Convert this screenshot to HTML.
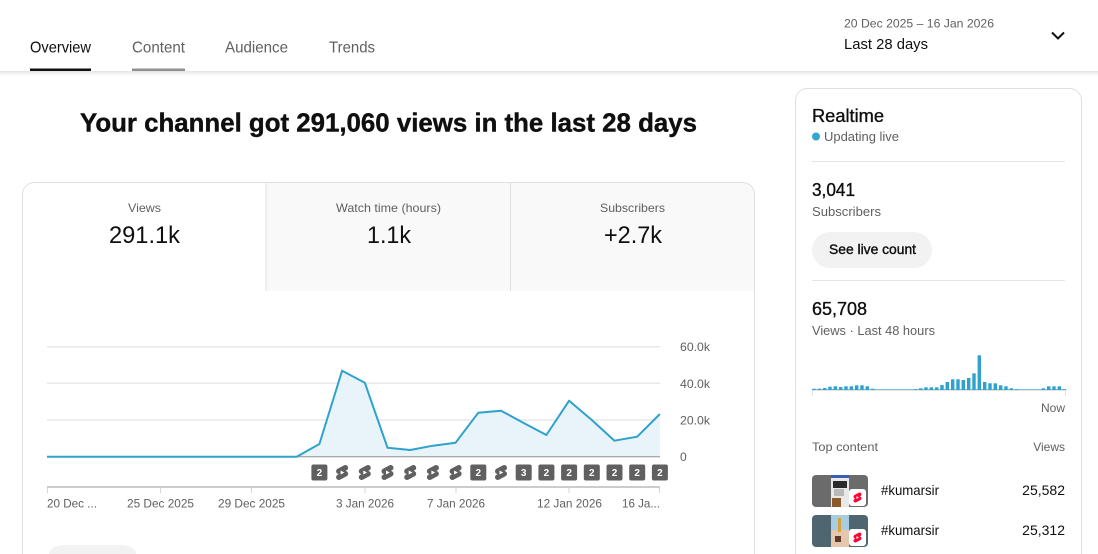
<!DOCTYPE html>
<html><head><meta charset="utf-8"><style>
html,body{margin:0;padding:0;background:#fff;width:1098px;height:554px;overflow:hidden}
svg{display:block}
text{font-family:"Liberation Sans",Arial,sans-serif}
</style></head><body>
<svg width="1098" height="554" viewBox="0 0 1098 554" xmlns="http://www.w3.org/2000/svg">
<defs>
<linearGradient id="sh" x1="0" y1="0" x2="0" y2="1"><stop offset="0" stop-color="#000" stop-opacity="0.10"/><stop offset="1" stop-color="#000" stop-opacity="0"/></linearGradient>
<clipPath id="cardclip"><path d="M22.5,554 V194.5 A12,12 0 0 1 34.5,182.5 H742.5 A12,12 0 0 1 754.5,194.5 V554 Z"/></clipPath>
<path id="shorts" d="M17.77 10.32l-1.2-.5L18 9.06c1.84-.96 2.53-3.23 1.56-5.06s-3.24-2.53-5.07-1.56L6 6.94c-1.29.68-2.07 2.04-2 3.49.07 1.42.93 2.67 2.22 3.25.03.01 1.2.5 1.2.5L6 14.93c-1.83.97-2.53 3.240-1.56 5.07.97 1.83 3.24 2.53 5.07 1.56l8.5-4.5c1.29-.68 2.06-2.04 1.99-3.49-.07-1.42-.94-2.68-2.23-3.25zM10 14.65v-5.3L15 12l-5 2.65z" fill-rule="evenodd"/>
</defs>

<!-- Header -->
<rect x="0" y="71" width="1098" height="5" fill="url(#sh)"/>
<line x1="0" y1="71.5" x2="1098" y2="71.5" stroke="#e6e6e6" stroke-width="1"/>
<text x="30" y="52.5" font-size="16" fill="#0f0f0f" textLength="61" lengthAdjust="spacingAndGlyphs">Overview</text>
<rect x="30" y="68.5" width="61" height="2.5" fill="#0f0f0f"/>
<text x="132" y="52.5" font-size="16" fill="#606060" textLength="53" lengthAdjust="spacingAndGlyphs">Content</text>
<rect x="132" y="68.5" width="53" height="2.5" fill="#909090"/>
<text x="225" y="52.5" font-size="16" fill="#606060" textLength="63" lengthAdjust="spacingAndGlyphs">Audience</text>
<text x="329" y="52.5" font-size="16" fill="#606060" textLength="46" lengthAdjust="spacingAndGlyphs">Trends</text>

<text x="844" y="27.5" font-size="12" fill="#606060" textLength="150" lengthAdjust="spacingAndGlyphs">20 Dec 2025 – 16 Jan 2026</text>
<text x="844" y="49" font-size="15" fill="#0f0f0f" textLength="84" lengthAdjust="spacingAndGlyphs">Last 28 days</text>
<polyline points="1052,32.5 1058,38.5 1064,32.5" fill="none" stroke="#0f0f0f" stroke-width="2"/>

<!-- Title -->
<text x="80" y="131.7" font-size="26" font-weight="bold" fill="#0f0f0f" stroke="#0f0f0f" stroke-width="0.4" textLength="617" lengthAdjust="spacingAndGlyphs">Your channel got 291,060 views in the last 28 days</text>

<!-- Left card -->
<g clip-path="url(#cardclip)">
  <rect x="22.5" y="182.5" width="732" height="372" fill="#fff"/>
  <rect x="266" y="182.5" width="490" height="108.5" fill="#f9f9f9"/>
  <line x1="266" y1="182.5" x2="266" y2="291" stroke="#e0e0e0" stroke-width="1"/>
  <line x1="510.5" y1="182.5" x2="510.5" y2="291" stroke="#e0e0e0" stroke-width="1"/>
</g>
<path d="M22.5,554 V194.5 A12,12 0 0 1 34.5,182.5 H742.5 A12,12 0 0 1 754.5,194.5 V554" fill="none" stroke="#e0e0e0" stroke-width="1"/>

<text x="128" y="212" font-size="12" fill="#606060" textLength="33" lengthAdjust="spacingAndGlyphs">Views</text>
<text x="109" y="243" font-size="24" fill="#0f0f0f" textLength="71" lengthAdjust="spacingAndGlyphs">291.1k</text>
<text x="336" y="212" font-size="12" fill="#606060" textLength="105" lengthAdjust="spacingAndGlyphs">Watch time (hours)</text>
<text x="367" y="243" font-size="24" fill="#0f0f0f" textLength="44" lengthAdjust="spacingAndGlyphs">1.1k</text>
<text x="600" y="212" font-size="12" fill="#606060" textLength="65" lengthAdjust="spacingAndGlyphs">Subscribers</text>
<text x="604" y="243" font-size="24" fill="#0f0f0f" textLength="58" lengthAdjust="spacingAndGlyphs">+2.7k</text>

<!-- Chart grid -->
<line x1="47" y1="346.7" x2="660" y2="346.7" stroke="#e8e8e8" stroke-width="1.5"/>
<line x1="47" y1="383.3" x2="660" y2="383.3" stroke="#e8e8e8" stroke-width="1.5"/>
<line x1="47" y1="420" x2="660" y2="420" stroke="#e8e8e8" stroke-width="1.5"/>
<text x="680" y="351" font-size="12" fill="#606060" textLength="30" lengthAdjust="spacingAndGlyphs">60.0k</text>
<text x="680" y="388" font-size="12" fill="#606060" textLength="30" lengthAdjust="spacingAndGlyphs">40.0k</text>
<text x="680" y="424.5" font-size="12" fill="#606060" textLength="30" lengthAdjust="spacingAndGlyphs">20.0k</text>
<text x="680" y="461" font-size="12" fill="#606060">0</text>

<polygon points="47,456.7 296.7,456.7 319.4,444 342.1,370.7 364.8,382.7 387.5,447.7 410.2,450 432.9,445.7 455.6,442.7 478.3,412.7 501,410.7 523.7,423 546.4,435 569.1,400.7 591.8,420 614.5,440.7 637.2,436.7 659.9,414 659.9,456.7" fill="#e9f4fa"/>
<line x1="47" y1="456.7" x2="660" y2="456.7" stroke="#909090" stroke-width="1"/>
<polyline points="47,456.7 296.7,456.7 319.4,444 342.1,370.7 364.8,382.7 387.5,447.7 410.2,450 432.9,445.7 455.6,442.7 478.3,412.7 501,410.7 523.7,423 546.4,435 569.1,400.7 591.8,420 614.5,440.7 637.2,436.7 659.9,414" fill="none" stroke="#2ea2cc" stroke-width="2" stroke-linejoin="round"/>

<!-- Badges -->
<g font-size="10" font-weight="bold" fill="#fff" text-anchor="middle">
<rect x="311.4" y="464.5" width="16" height="16" rx="2" fill="#606060"/><text x="319.4" y="476">2</text>
<rect x="470.3" y="464.5" width="16" height="16" rx="2" fill="#606060"/><text x="478.3" y="476">2</text>
<rect x="515.7" y="464.5" width="16" height="16" rx="2" fill="#606060"/><text x="523.7" y="476">3</text>
<rect x="538.4" y="464.5" width="16" height="16" rx="2" fill="#606060"/><text x="546.4" y="476">2</text>
<rect x="561.1" y="464.5" width="16" height="16" rx="2" fill="#606060"/><text x="569.1" y="476">2</text>
<rect x="583.8" y="464.5" width="16" height="16" rx="2" fill="#606060"/><text x="591.8" y="476">2</text>
<rect x="606.5" y="464.5" width="16" height="16" rx="2" fill="#606060"/><text x="614.5" y="476">2</text>
<rect x="629.2" y="464.5" width="16" height="16" rx="2" fill="#606060"/><text x="637.2" y="476">2</text>
<rect x="651.9" y="464.5" width="16" height="16" rx="2" fill="#606060"/><text x="659.9" y="476">2</text>
</g>
<g fill="#606060">
<use href="#shorts" transform="translate(333.1,463.5) scale(0.75)"/>
<use href="#shorts" transform="translate(355.8,463.5) scale(0.75)"/>
<use href="#shorts" transform="translate(378.5,463.5) scale(0.75)"/>
<use href="#shorts" transform="translate(401.2,463.5) scale(0.75)"/>
<use href="#shorts" transform="translate(423.9,463.5) scale(0.75)"/>
<use href="#shorts" transform="translate(446.6,463.5) scale(0.75)"/>
<use href="#shorts" transform="translate(492,463.5) scale(0.75)"/>
</g>

<!-- X axis -->
<rect x="47" y="486" width="613" height="2" fill="#cccccc"/>
<g stroke="#d6d6d6" stroke-width="1">
<line x1="47.5" y1="488" x2="47.5" y2="493"/>
<line x1="160.5" y1="488" x2="160.5" y2="493"/>
<line x1="251.5" y1="488" x2="251.5" y2="493"/>
<line x1="365" y1="488" x2="365" y2="493"/>
<line x1="456" y1="488" x2="456" y2="493"/>
<line x1="569" y1="488" x2="569" y2="493"/>
<line x1="659.5" y1="488" x2="659.5" y2="493"/>
</g>
<g font-size="12" fill="#606060">
<text x="47" y="507.5" textLength="50" lengthAdjust="spacingAndGlyphs">20 Dec ...</text>
<text x="127" y="507.5" textLength="67" lengthAdjust="spacingAndGlyphs">25 Dec 2025</text>
<text x="218" y="507.5" textLength="67" lengthAdjust="spacingAndGlyphs">29 Dec 2025</text>
<text x="336" y="507.5" textLength="58" lengthAdjust="spacingAndGlyphs">3 Jan 2026</text>
<text x="427" y="507.5" textLength="58" lengthAdjust="spacingAndGlyphs">7 Jan 2026</text>
<text x="537" y="507.5" textLength="65" lengthAdjust="spacingAndGlyphs">12 Jan 2026</text>
<text x="622" y="507.5" textLength="38" lengthAdjust="spacingAndGlyphs">16 Ja...</text>
</g>

<path d="M49,554 V563 A18,18 0 0 1 67,545 H118 A18,18 0 0 1 136,563 V554 Z" fill="#f2f2f2"/>
<path d="M49,554 C49,549 55,545 67,545 H118 C130,545 136,549 136,554 Z" fill="#f2f2f2"/>

<!-- Realtime card -->
<path d="M795.5,554 V100.5 A12,12 0 0 1 807.5,88.5 H1069.5 A12,12 0 0 1 1081.5,100.5 V554" fill="#fff" stroke="#e0e0e0" stroke-width="1"/>
<text x="812" y="122" font-size="18" fill="#0f0f0f" stroke="#0f0f0f" stroke-width="0.35" textLength="72" lengthAdjust="spacingAndGlyphs">Realtime</text>
<circle cx="816" cy="136.5" r="4" fill="#33a6d2"/>
<text x="824" y="141" font-size="13" fill="#606060" textLength="75" lengthAdjust="spacingAndGlyphs">Updating live</text>
<line x1="812" y1="161.5" x2="1065" y2="161.5" stroke="#e5e5e5" stroke-width="1"/>
<text x="812" y="196" font-size="18" fill="#0f0f0f" stroke="#0f0f0f" stroke-width="0.35" textLength="43" lengthAdjust="spacingAndGlyphs">3,041</text>
<text x="812" y="216" font-size="13" fill="#606060" textLength="69" lengthAdjust="spacingAndGlyphs">Subscribers</text>
<rect x="812" y="232" width="120" height="36" rx="18" fill="#f2f2f2"/>
<text x="829" y="254" font-size="14" fill="#0f0f0f" stroke="#0f0f0f" stroke-width="0.4" textLength="87" lengthAdjust="spacingAndGlyphs">See live count</text>
<line x1="812" y1="280.5" x2="1065" y2="280.5" stroke="#e5e5e5" stroke-width="1"/>
<text x="812" y="315" font-size="18" fill="#0f0f0f" stroke="#0f0f0f" stroke-width="0.35" textLength="55" lengthAdjust="spacingAndGlyphs">65,708</text>
<text x="812" y="335" font-size="13" fill="#606060" textLength="123" lengthAdjust="spacingAndGlyphs">Views · Last 48 hours</text>

<!-- mini bars -->
<line x1="812" y1="390.5" x2="1066" y2="390.5" stroke="#e3e3e3" stroke-width="1"/>
<line x1="812.5" y1="390" x2="812.5" y2="396" stroke="#e3e3e3" stroke-width="1"/>
<line x1="1065.5" y1="390" x2="1065.5" y2="396" stroke="#e3e3e3" stroke-width="1"/>
<rect x="812" y="389" width="254" height="1" fill="#7cc3df"/>
<g fill="#2ea2cc">
<rect x="812.3" y="388.7" width="3.4" height="1.3"/>
<rect x="817.6" y="388.7" width="3.4" height="1.3"/>
<rect x="823.0" y="388" width="3.4" height="2"/>
<rect x="828.3" y="386.7" width="3.4" height="3.3"/>
<rect x="833.6" y="386.3" width="3.4" height="3.7"/>
<rect x="839.0" y="387" width="3.4" height="3"/>
<rect x="844.3" y="386.3" width="3.4" height="3.7"/>
<rect x="849.6" y="386.3" width="3.4" height="3.7"/>
<rect x="855.0" y="385.3" width="3.4" height="4.7"/>
<rect x="860.3" y="385.3" width="3.4" height="4.7"/>
<rect x="865.6" y="386.3" width="3.4" height="3.7"/>
<rect x="871.0" y="388.7" width="3.4" height="1.3"/>
<rect x="913.6" y="389.3" width="3.4" height="0.7"/>
<rect x="919.0" y="388.3" width="3.4" height="1.7"/>
<rect x="924.3" y="387.3" width="3.4" height="2.7"/>
<rect x="929.6" y="387.3" width="3.4" height="2.7"/>
<rect x="935.0" y="387.3" width="3.4" height="2.7"/>
<rect x="940.3" y="385" width="3.4" height="5"/>
<rect x="945.6" y="382" width="3.4" height="8"/>
<rect x="951.0" y="379.3" width="3.4" height="10.7"/>
<rect x="956.3" y="379.3" width="3.4" height="10.7"/>
<rect x="961.6" y="380" width="3.4" height="10"/>
<rect x="967.0" y="378" width="3.4" height="12"/>
<rect x="972.3" y="373.3" width="3.4" height="16.7"/>
<rect x="977.6" y="355.3" width="3.4" height="34.7"/>
<rect x="983.0" y="382" width="3.4" height="8"/>
<rect x="988.3" y="383.3" width="3.4" height="6.7"/>
<rect x="993.6" y="383.3" width="3.4" height="6.7"/>
<rect x="999.0" y="385.3" width="3.4" height="4.7"/>
<rect x="1004.3" y="386.3" width="3.4" height="3.7"/>
<rect x="1009.6" y="388.3" width="3.4" height="1.7"/>
<rect x="1015.0" y="389.3" width="3.4" height="0.7"/>
<rect x="1041.6" y="388.3" width="3.4" height="1.7"/>
<rect x="1047.0" y="386.3" width="3.4" height="3.7"/>
<rect x="1052.3" y="386.3" width="3.4" height="3.7"/>
<rect x="1057.6" y="386.3" width="3.4" height="3.7"/>
<rect x="1063.0" y="389.3" width="3.4" height="0.7"/>
</g>
<text x="1065" y="412" font-size="12" fill="#606060" text-anchor="end">Now</text>

<text x="812" y="451" font-size="12" fill="#606060" textLength="66" lengthAdjust="spacingAndGlyphs">Top content</text>
<text x="1065" y="451" font-size="12" fill="#606060" text-anchor="end">Views</text>

<!-- thumbnails -->
<rect x="812" y="475" width="56" height="32" rx="4" fill="#6b6b6b"/>
<rect x="831" y="475" width="18" height="32" fill="#e8e8e8"/>
<rect x="831" y="475" width="18" height="3" fill="#3a5fb0"/>
<rect x="833" y="481" width="14" height="7" fill="#2a2a2a"/>
<rect x="834" y="489" width="10" height="7" fill="#b8b8b8"/>
<rect x="832" y="498" width="9" height="9" fill="#8a5a2a"/>
<rect x="849" y="489" width="17" height="17" rx="3" fill="#fff"/>
<use href="#shorts" transform="translate(851.5,491.5) scale(0.5)" fill="#ff0033"/>

<rect x="812" y="515" width="56" height="32" rx="4" fill="#4f6670"/>
<rect x="831" y="515" width="18" height="32" fill="#a9cde0"/>
<rect x="831" y="530" width="18" height="17" fill="#e6c7ad"/>
<rect x="838" y="518" width="3" height="14" fill="#d7a33a"/>
<rect x="835" y="536" width="6" height="6" fill="#5a3a2a"/>
<rect x="849" y="529" width="17" height="17" rx="3" fill="#fff"/>
<use href="#shorts" transform="translate(851.5,531.5) scale(0.5)" fill="#ff0033"/>

<text x="881" y="495" font-size="14" fill="#0f0f0f" textLength="58" lengthAdjust="spacingAndGlyphs">#kumarsir</text>
<text x="1065" y="495" font-size="14" fill="#0f0f0f" text-anchor="end">25,582</text>
<text x="881" y="535" font-size="14" fill="#0f0f0f" textLength="58" lengthAdjust="spacingAndGlyphs">#kumarsir</text>
<text x="1065" y="535" font-size="14" fill="#0f0f0f" text-anchor="end">25,312</text>
</svg>
</body></html>
